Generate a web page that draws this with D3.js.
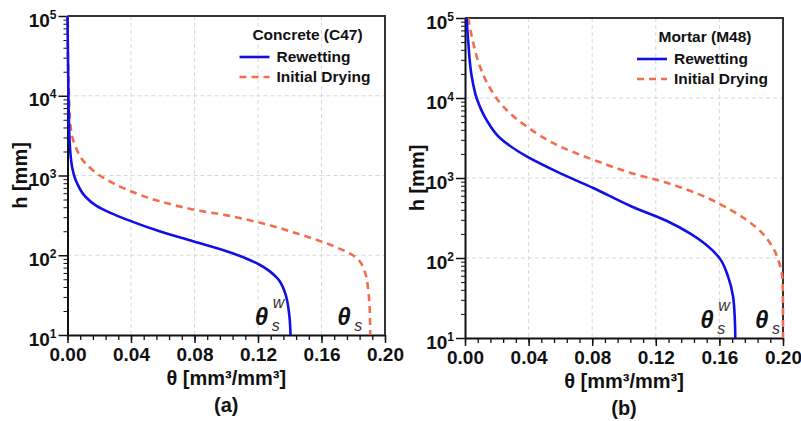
<!DOCTYPE html>
<html>
<head>
<meta charset="utf-8">
<script src="https://cdn.jsdelivr.net/npm/d3@7"></script>
<style>
  body { margin: 0; background: #fff; }
  svg, text { font-family: "Liberation Sans", Arial, sans-serif; }
  .grid line { stroke: #d8d8d8; stroke-width: 1; stroke-dasharray: 4,3; }
  .lbl { font-weight: bold; fill: #111; }
</style>
</head>
<body>
<script>
// curves, [theta, h]
var c47Rewetting = [[0.0000,100000],[0.0003,30000],[0.0006,10000],[0.0013,2800],[0.0028,1310],
  [0.0059,810],[0.011,550],[0.0185,412],[0.027,340],[0.0374,280],[0.058,200],[0.079,150],
  [0.1035,107],[0.121,76],[0.132,52],[0.137,34],[0.1398,17],[0.1405,10]];
var c47Drying = [[0.0000,100000],[0.0003,30000],[0.0008,12000],[0.0017,4600],[0.0049,2330],
  [0.011,1440],[0.0227,935],[0.0374,665],[0.058,476],[0.079,375],[0.1004,316],[0.1256,243],
  [0.1466,182],[0.1676,130],[0.182,93],[0.1875,60],[0.1896,34],[0.1905,18],[0.1907,10]];
var m48Rewetting = [[0.001,100000],[0.0021,48700],[0.0042,18700],[0.0073,10000],[0.0136,5300],
  [0.022,3160],[0.0388,1860],[0.0597,1150],[0.0807,750],[0.1048,440],[0.127,290],
  [0.142,200],[0.16,100],[0.1654,59],[0.1686,33],[0.1697,17],[0.170,10]];
var m48Drying = [[0.002,100000],[0.0052,48700],[0.0094,24800],[0.0157,13300],[0.024,7850],
  [0.0388,4400],[0.0597,2480],[0.0807,1690],[0.1048,1150],[0.127,870],[0.148,615],
  [0.1689,380],[0.1836,237],[0.1925,147],[0.1977,86],[0.1998,49],[0.2,20],[0.2,10]];

var xTicks = [0, 0.04, 0.08, 0.12, 0.16, 0.20];
var yTicks = [10, 100, 1000, 10000, 100000];
var seriesNames = ["Rewetting", "Initial Drying"];
var titles = ["Concrete (C47)", "Mortar (M48)"];
var captions = ["(a)", "(b)"];
var saturation = [[0.14, 0.19], [0.17, 0.20]];

var svg = d3.select("body").append("svg").attr("width", 801).attr("height", 421);

function panel(p) {
  var x = d3.scaleLinear().domain([0, 0.2]).range([p.x0, p.x1]);
  var y = d3.scaleLog().domain([10, 100000]).range([p.y1, p.y0]);
  var g = svg.append("g");

  // grid
  var grid = g.append("g").attr("class", "grid");
  grid.selectAll(".gx").data(xTicks.slice(1, -1)).enter().append("line")
    .attr("x1", d => x(d)).attr("x2", d => x(d)).attr("y1", p.y0).attr("y2", p.y1);
  grid.selectAll(".gy").data(yTicks.slice(1, -1)).enter().append("line")
    .attr("y1", d => y(d)).attr("y2", d => y(d)).attr("x1", p.x0).attr("x2", p.x1);

  // x axis: majors + minors
  var xMinor = d3.range(0, 0.2001, 0.008);
  g.append("g").attr("transform", "translate(0," + p.y1 + ")")
    .call(d3.axisBottom(x).tickValues(xMinor).tickSize(5).tickFormat(""))
    .call(a => a.select(".domain").remove())
    .selectAll("line").attr("stroke", "#111").attr("stroke-width", 1.3);
  var xa = g.append("g").attr("transform", "translate(0," + p.y1 + ")")
    .call(d3.axisBottom(x).tickValues(xTicks).tickSize(8).tickSizeOuter(0).tickFormat(d3.format(".2f")));
  xa.attr("font-family", null);
  xa.select(".domain").attr("stroke", "#111").attr("stroke-width", 2);
  xa.selectAll("line").attr("stroke", "#111").attr("stroke-width", 1.5);
  xa.selectAll("text").attr("class", "lbl").attr("font-size", 19).attr("dy", 0).attr("y", 26);

  // y axis
  var yMinor = [];
  yTicks.slice(0, -1).forEach(function (d) { for (var k = 2; k < 10; k++) yMinor.push(d * k); });
  g.append("g").attr("transform", "translate(" + p.x0 + ",0)")
    .call(d3.axisLeft(y).tickValues(yMinor).tickSize(4).tickFormat(""))
    .call(a => a.select(".domain").remove())
    .selectAll("line").attr("stroke", "#111").attr("stroke-width", 1);
  var ya = g.append("g").attr("transform", "translate(" + p.x0 + ",0)")
    .call(d3.axisLeft(y).tickValues(yTicks).tickSize(9).tickSizeOuter(0).tickFormat(""));
  ya.attr("font-family", null);
  ya.select(".domain").attr("stroke", "#111").attr("stroke-width", 2);
  ya.selectAll("line").attr("stroke", "#111").attr("stroke-width", 1.5);
  ya.selectAll(".tick").append("text").attr("class", "lbl").attr("text-anchor", "end")
    .attr("x", -11).attr("y", 10).attr("font-size", 19)
    .each(function (d) {
      var t = d3.select(this);
      t.append("tspan").text("10");
      t.append("tspan").attr("dy", -8).attr("font-size", 12).text(Math.round(Math.log10(d)));
    });

  // top / right frame
  g.append("path").attr("fill", "none").attr("stroke", "#333").attr("stroke-width", 2)
    .attr("d", "M" + p.x0 + "," + p.y0 + "H" + p.x1 + "V" + p.y1);

  // curves
  var line = d3.line().x(d => x(d[0])).y(d => y(d[1])).curve(d3.curveMonotoneY);
  g.append("path").datum(p.dry).attr("fill", "none").attr("stroke", "#f26e4e")
    .attr("stroke-width", 2.6).attr("stroke-dasharray", "7,5").attr("d", line);
  g.append("path").datum(p.wet).attr("fill", "none").attr("stroke", "#1010e6")
    .attr("stroke-width", 2.6).attr("d", line);

  // axis titles
  var xc = (p.x0 + p.x1) / 2;
  g.append("text").attr("class", "lbl").attr("font-size", 20).attr("text-anchor", "middle")
    .attr("x", xc).attr("y", p.y1 + 50)
    .text("θ [mm³/mm³]");
  g.append("text").attr("class", "lbl").attr("font-size", 20).attr("text-anchor", "middle")
    .attr("x", xc).attr("y", p.y1 + 77).text(p.caption);
  g.append("text").attr("class", "lbl").attr("font-size", 20).attr("text-anchor", "middle")
    .attr("transform", "translate(" + (p.x0 - 41) + "," + ((p.y0 + p.y1) / 2) + ") rotate(-90)")
    .text("h [mm]");

  // legend
  var lg = g.append("g").attr("transform", "translate(" + p.x0 + "," + p.y0 + ")");
  lg.append("text").attr("class", "lbl").attr("font-size", 15.5).attr("text-anchor", "middle")
    .attr("x", 240).attr("y", 24).text(p.title);
  seriesNames.forEach(function (s, i) {
    var yy = 41 + i * 20;
    var l = lg.append("line").attr("x1", 172).attr("x2", 202).attr("y1", yy).attr("y2", yy)
      .attr("stroke-width", 2.6);
    if (i === 0) l.attr("stroke", "#1010e6");
    else l.attr("stroke", "#f26e4e").attr("stroke-dasharray", "7,5");
    lg.append("text").attr("class", "lbl").attr("font-size", 15.5)
      .attr("x", 209).attr("y", yy + 5).text(s);
  });

  // theta_s annotations
  var sw = x(p.sat[0]), sd = x(p.sat[1]);
  var by = p.y1 - 10;
  function theta(xx) {
    g.append("text").attr("class", "lbl").attr("font-size", 24).attr("font-style", "italic")
      .attr("x", xx).attr("y", by).text("θ");
  }
  function small(xx, yy, t) {
    g.append("text").attr("font-size", 16).attr("font-style", "italic").attr("fill", "#333")
      .attr("x", xx).attr("y", yy).text(t);
  }
  theta(sw - 35); small(sw - 18, by + 6, "s"); small(sw - 17, by - 17, "w");
  theta(sd - p.dOff); small(sd - p.dOff + 17, by + 6, "s");
}

panel({x0: 67.5, x1: 385, y0: 16, y1: 335, wet: c47Rewetting, dry: c47Drying,
  title: titles[0], caption: captions[0], sat: saturation[0], dOff: 32});
panel({x0: 465, x1: 783, y0: 18, y1: 338, wet: m48Rewetting, dry: m48Drying,
  title: titles[1], caption: captions[1], sat: saturation[1], dOff: 28});
</script>
</body>
</html>
